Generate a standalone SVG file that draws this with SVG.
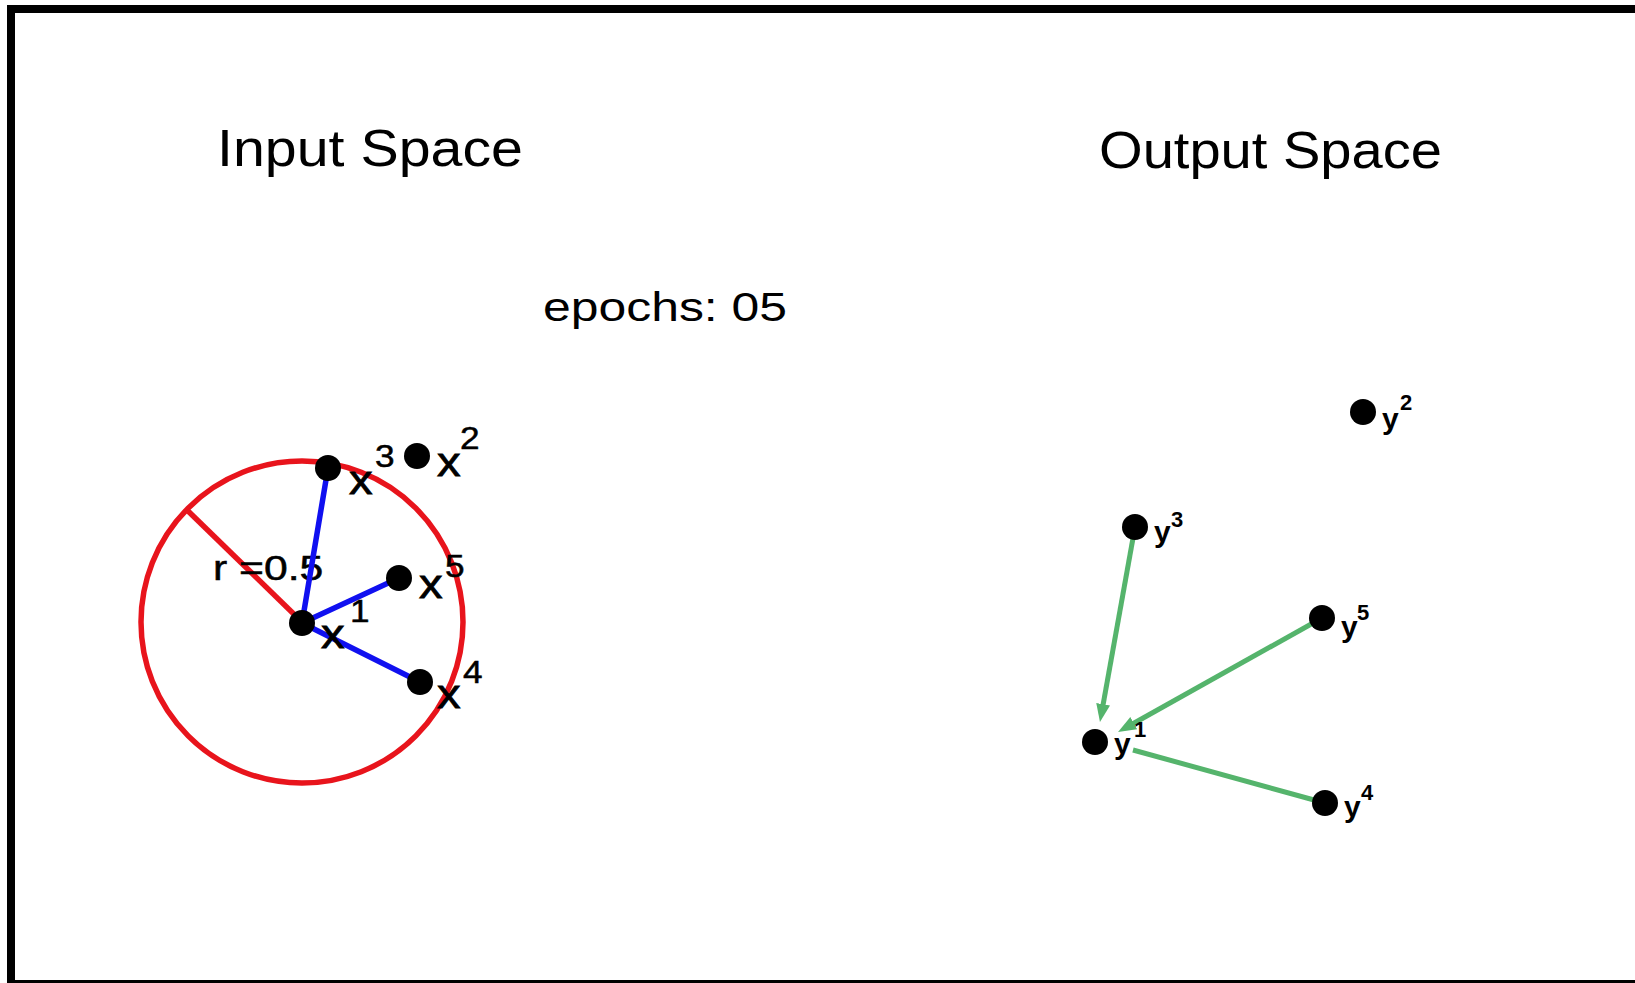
<svg xmlns="http://www.w3.org/2000/svg" width="1635" height="983" viewBox="0 0 1635 983">
  <style>
    .title { font-family: "Liberation Sans", Arial, sans-serif; fill: #000; }
    .lbl { font-family: "Liberation Sans", Arial, sans-serif; fill: #000; }
    .xl { font-size: 41px; stroke: #000; stroke-width: 0.8; }
    .xs { font-size: 32px; stroke: #000; stroke-width: 0.5; }
    .yl { font-size: 30px; font-weight: bold; }
    .ys { font-size: 22px; font-weight: bold; }
    .dot { fill: #000; }
    .blue { stroke: #1010f0; stroke-width: 5.5; stroke-linecap: round; fill: none; }
    .red { stroke: #e8141c; stroke-width: 5.5; fill: none; }
    .green { stroke: #55b46c; stroke-width: 5; fill: none; }
  </style>
  <defs>
    <marker id="ah" markerUnits="userSpaceOnUse" markerWidth="20" markerHeight="16" refX="2" refY="7" orient="auto">
      <path d="M0,0 L18,7 L0,14 z" fill="#55b46c"/>
    </marker>
  </defs>
  <rect x="0" y="0" width="1635" height="983" fill="#fff"/>
  <rect id="frame" x="11" y="9" width="1700" height="975" fill="none" stroke="#000" stroke-width="8"/>

  <g id="titles">
    <text class="title" x="217" y="166" font-size="52" textLength="306" lengthAdjust="spacingAndGlyphs">Input Space</text>
    <text class="title" x="1099" y="168" font-size="52" textLength="343" lengthAdjust="spacingAndGlyphs">Output Space</text>
    <text class="title" x="543" y="321" font-size="40" textLength="244" lengthAdjust="spacingAndGlyphs">epochs: 05</text>
  </g>

  <g id="radius-circle">
    <circle class="red" cx="302" cy="622" r="161"/>
    <line class="red" x1="302" y1="622" x2="187" y2="510"/>
    <text class="lbl" transform="translate(213,580) scale(1.22,1)" font-size="35" stroke="#000" stroke-width="0.5">r =0.5</text>
  </g>

  <g id="connectors">
    <line class="blue" x1="302" y1="623" x2="328" y2="468"/>
    <line class="blue" x1="302" y1="623" x2="399" y2="578"/>
    <line class="blue" x1="302" y1="623" x2="420" y2="682"/>
    <line class="green" x1="1135" y1="527" x2="1102.8" y2="706.2" marker-end="url(#ah)"/>
    <line class="green" x1="1322" y1="618" x2="1132" y2="724.2" marker-end="url(#ah)"/>
    <line class="green" x1="1325" y1="803" x2="1133" y2="750"/>
  </g>

  <g id="x1"><circle class="dot" cx="302" cy="623" r="13"/>
    <text class="lbl xl" transform="translate(321,648) scale(1.15,1)">x</text>
    <text class="lbl xs" transform="translate(350,622) scale(1.1,1)">1</text></g>
  <g id="x2"><circle class="dot" cx="417" cy="456" r="13"/>
    <text class="lbl xl" transform="translate(437,476) scale(1.15,1)">x</text>
    <text class="lbl xs" transform="translate(460,449) scale(1.1,1)">2</text></g>
  <g id="x3"><circle class="dot" cx="328" cy="468" r="13"/>
    <text class="lbl xl" transform="translate(349,494) scale(1.15,1)">x</text>
    <text class="lbl xs" transform="translate(375,467) scale(1.1,1)">3</text></g>
  <g id="x4"><circle class="dot" cx="420" cy="682" r="13"/>
    <text class="lbl xl" transform="translate(437,708) scale(1.15,1)">x</text>
    <text class="lbl xs" transform="translate(463,683) scale(1.1,1)">4</text></g>
  <g id="x5"><circle class="dot" cx="399" cy="578" r="13"/>
    <text class="lbl xl" transform="translate(419,598) scale(1.15,1)">x</text>
    <text class="lbl xs" transform="translate(445,577) scale(1.1,1)">5</text></g>

  <g id="y1"><circle class="dot" cx="1095" cy="742" r="13"/>
    <text class="lbl yl" transform="translate(1114,754)">y</text>
    <text class="lbl ys" transform="translate(1134,737)">1</text></g>
  <g id="y2"><circle class="dot" cx="1363" cy="412" r="13"/>
    <text class="lbl yl" transform="translate(1382,429)">y</text>
    <text class="lbl ys" transform="translate(1400,410)">2</text></g>
  <g id="y3"><circle class="dot" cx="1135" cy="527" r="13"/>
    <text class="lbl yl" transform="translate(1154,542)">y</text>
    <text class="lbl ys" transform="translate(1171,527)">3</text></g>
  <g id="y4"><circle class="dot" cx="1325" cy="803" r="13"/>
    <text class="lbl yl" transform="translate(1344,817)">y</text>
    <text class="lbl ys" transform="translate(1361,800)">4</text></g>
  <g id="y5"><circle class="dot" cx="1322" cy="618" r="13"/>
    <text class="lbl yl" transform="translate(1341,637)">y</text>
    <text class="lbl ys" transform="translate(1357,620)">5</text></g>
</svg>
